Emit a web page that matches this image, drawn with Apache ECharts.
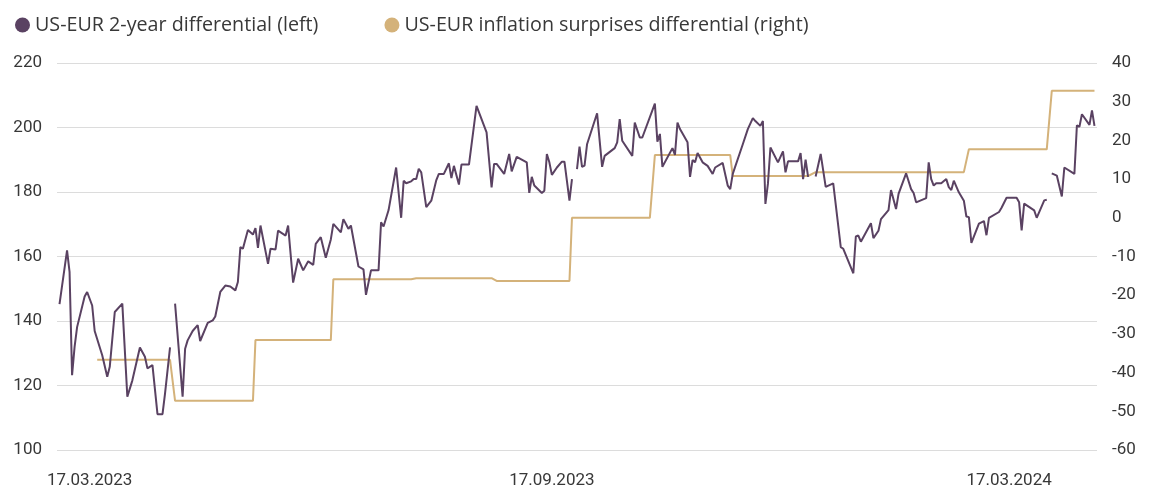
<!DOCTYPE html>
<html>
<head>
<meta charset="utf-8">
<script src="https://cdn.jsdelivr.net/npm/echarts@6/dist/echarts.min.js"></script>
<style>
  html, body { margin: 0; padding: 0; background: #fff; }
  #chart { width: 1152px; height: 489px; }
</style>
</head>
<body>
<div id="chart"></div>
<script>
// US-EUR 2-year differential (left axis), null = gap in the line
const diffDates = [
  '2023-03-05','2023-03-08','2023-03-09','2023-03-10','2023-03-11','2023-03-12','2023-03-15','2023-03-16','2023-03-18','2023-03-19',
  '2023-03-22','2023-03-24','2023-03-25','2023-03-27','2023-03-30','2023-04-01','2023-04-03','2023-04-06','2023-04-08','2023-04-09',
  '2023-04-11','2023-04-13','2023-04-15','2023-04-16','2023-04-18','2023-04-19','2023-04-20','2023-04-23','2023-04-24','2023-04-25',
  '2023-04-27','2023-04-29','2023-04-30','2023-05-03','2023-05-05','2023-05-06','2023-05-07','2023-05-08','2023-05-10','2023-05-12',
  '2023-05-14','2023-05-15','2023-05-16','2023-05-17','2023-05-19','2023-05-21','2023-05-22','2023-05-23','2023-05-24','2023-05-27',
  '2023-05-28','2023-05-30','2023-05-31','2023-06-03','2023-06-04','2023-06-06','2023-06-08','2023-06-10','2023-06-12','2023-06-14',
  '2023-06-15','2023-06-17','2023-06-19','2023-06-21','2023-06-22','2023-06-25','2023-06-26','2023-06-28','2023-06-29','2023-07-02',
  '2023-07-04','2023-07-05','2023-07-07','2023-07-10','2023-07-11','2023-07-12','2023-07-14','2023-07-17','2023-07-19','2023-07-20',
  '2023-07-21','2023-07-23','2023-07-24','2023-07-25','2023-07-26','2023-07-27','2023-07-29','2023-07-31','2023-08-02','2023-08-03',
  '2023-08-05','2023-08-07','2023-08-08','2023-08-09','2023-08-11','2023-08-12','2023-08-15','2023-08-18','2023-08-22','2023-08-24',
  '2023-08-25','2023-08-26','2023-08-29','2023-08-31','2023-09-01','2023-09-03','2023-09-07','2023-09-08','2023-09-09','2023-09-10',
  '2023-09-13','2023-09-14','2023-09-15','2023-09-16','2023-09-17','2023-09-19','2023-09-21','2023-09-22','2023-09-24','2023-09-25',
  '2023-09-26','2023-09-27','2023-09-28','2023-09-29','2023-09-30','2023-10-01','2023-10-05','2023-10-07','2023-10-08','2023-10-12',
  '2023-10-13','2023-10-14','2023-10-15','2023-10-19','2023-10-20','2023-10-22','2023-10-23','2023-10-28','2023-10-29','2023-10-30',
  '2023-10-31','2023-11-04','2023-11-05','2023-11-06','2023-11-07','2023-11-10','2023-11-11','2023-11-12','2023-11-13','2023-11-14',
  '2023-11-16','2023-11-18','2023-11-20','2023-11-21','2023-11-24','2023-11-26','2023-11-27','2023-11-28','2023-12-02','2023-12-04',
  '2023-12-06','2023-12-07','2023-12-09','2023-12-10','2023-12-11','2023-12-12','2023-12-13','2023-12-16','2023-12-18','2023-12-19',
  '2023-12-20','2023-12-24','2023-12-25','2023-12-26','2023-12-27','2023-12-28','2023-12-30','2023-12-31','2024-01-02','2024-01-04',
  '2024-01-07','2024-01-10','2024-01-11','2024-01-15','2024-01-16','2024-01-17','2024-01-18','2024-01-22','2024-01-23','2024-01-25',
  '2024-01-26','2024-01-29','2024-01-30','2024-02-01','2024-02-02','2024-02-05','2024-02-07','2024-02-08','2024-02-09','2024-02-13',
  '2024-02-14','2024-02-15','2024-02-16','2024-02-17','2024-02-19','2024-02-21','2024-02-22','2024-02-23','2024-02-24','2024-02-26',
  '2024-02-28','2024-02-29','2024-03-01','2024-03-02','2024-03-05','2024-03-07','2024-03-08','2024-03-09','2024-03-13','2024-03-14',
  '2024-03-16','2024-03-20','2024-03-21','2024-03-22','2024-03-23','2024-03-27','2024-03-28','2024-03-31','2024-04-01','2024-04-02',
  '2024-04-03','2024-04-05','2024-04-07','2024-04-08','2024-04-12','2024-04-13','2024-04-14','2024-04-15','2024-04-18','2024-04-19',
  '2024-04-20'
];
const diffValues = [
  145.2,161.9,155.2,123.2,132,138.1,147.6,149,144.8,136.9,
  129.4,122.7,125.8,142.8,145.4,116.5,121.6,131.8,128.9,125.3,
  126.3,111.1,111.1,117.5,131.8,null,145.4,116.5,131.4,134,
  136.9,138.7,133.8,139.4,140.2,141.4,145.2,149,151,150.7,
  149.5,152.1,162.9,162.4,168.2,166.8,168.8,162.7,169.6,157.7,
  162.4,162.2,168,166.5,169.6,151.9,159.3,155.7,158.5,157.4,
  163.9,166,159.6,165.3,170.1,167.5,171.6,168.6,169.6,156.9,
  156,148.1,155.7,155.7,170.6,169.3,174.4,187.6,172,183.5,
  182.7,183.3,184,184,187.2,186.1,175.3,177.3,183.7,185.6,
  185.6,188.9,184.3,188.1,182.3,188.5,188.5,206.7,198.5,181.4,
  188.7,188.7,185.6,191.8,186.4,190.9,189.2,179.7,184.7,182,
  179.7,180.4,191.8,189.2,185.3,187.6,189.4,189.4,177.3,184,
  null,187.1,194.1,187.8,188.2,194.8,204.4,187.8,191.2,193.6,
  195.4,202.6,195.9,191.2,201.5,196.9,196.9,207.4,195.6,198,
  187.8,193.6,191.5,201.5,199.5,195.4,184.7,189.9,189.2,192.1,
  189.2,188.1,185.6,187.6,189,182,180.9,185.6,194.8,199.5,
  202.9,202,200.5,202,176.3,182.5,193.8,189.2,192.6,186.1,
  189.5,189.5,192.1,184,190,184.7,null,184.8,191.8,181.6,
  182.7,162.9,162.4,154.8,166.2,166.5,164.6,170.3,165.7,168,
  171.6,174.4,180.6,174.7,179.4,185.8,180.9,179.7,176.8,178.1,
  189.2,184,182,182.7,182.7,184,181.5,180.6,183.5,179.9,
  177.3,172.4,172.2,164.2,170.2,171,166.6,172,173.8,175.1,
  178.2,178.2,176.8,168.1,176.4,174.3,172,177.4,177.6,null,
  185.8,185.1,178.6,187.6,185.6,200.7,200.2,204.1,200.8,205.3,
  200.5
];

// US-EUR inflation surprises differential (right axis)
const surpriseDates = [
  '2023-03-20','2023-04-18','2023-04-20','2023-05-21','2023-05-22','2023-06-21','2023-06-22','2023-07-23',
  '2023-07-25','2023-08-24','2023-08-26','2023-09-24','2023-09-25','2023-10-26','2023-10-28','2023-11-27',
  '2023-11-28','2023-12-28','2023-12-31','2024-02-28','2024-03-01','2024-04-01','2024-04-03','2024-04-20'
];
const surpriseValues = [
  -36.7,-36.7,-47.3,-47.3,-31.6,-31.6,-15.9,-15.9,
  -15.6,-15.6,-16.3,-16.3,0,0,16.2,16.2,
  10.8,10.8,11.8,11.8,17.7,17.7,32.8,32.8
];

// x-axis tick labels
const xTickDates = ['2023-03-17', '2023-09-17', '2024-03-17'];

const seriesNames = ['US-EUR 2-year differential (left)', 'US-EUR inflation surprises differential (right)'];
const purple = '#5a4262';
const tan = '#d4b27a';
const textColor = '#383838';
const fontFamily = 'Roboto';

//日期字符串 -> 时间戳 (UTC, 避免夏令时误差)
function toTime(s) {
  let p = s.split('-');
  return Date.UTC(+p[0], +p[1] - 1, +p[2]);
}
function pad(n) {
  return n < 10 ? '0' + n : '' + n;
}

let chart = echarts.init(document.getElementById('chart'), null, { renderer: 'canvas' });

let option = {
  animation: false,
  backgroundColor: '#ffffff',
  textStyle: { fontFamily: fontFamily },
  legend: {
    left: 10,
    top: 10,
    icon: 'circle',
    itemWidth: 15,
    itemHeight: 15,
    itemGap: 66,
    textStyle: { color: textColor, fontSize: 19.7, fontFamily: 'Open Sans' },
    data: seriesNames
  },
  grid: {
    left: 57,
    right: 55,
    top: 63,
    bottom: 39,
    containLabel: false
  },
  xAxis: {
    // value axis in ms, so the three labels can sit on exact dates
    type: 'value',
    min: toTime('2023-03-04'),
    max: toTime('2024-04-21'),
    axisLine: { show: false },
    axisTick: { show: false },
    splitLine: { show: false },
    axisLabel: {
      customValues: xTickDates.map(toTime),
      color: textColor,
      fontSize: 17,
      margin: 22,
      formatter: function (v) {
        let d = new Date(v);
        return pad(d.getUTCDate()) + '.' + pad(d.getUTCMonth() + 1) + '.' + d.getUTCFullYear();
      }
    }
  },
  yAxis: [{
    type: 'value',
    min: 100,
    max: 220,
    interval: 20,
    axisLine: { show: false },
    axisTick: { show: false },
    splitLine: { lineStyle: { color: '#dcdcdc', width: 1 } },
    axisLabel: { color: textColor, fontSize: 17, margin: 15 }
  }, {
    type: 'value',
    min: -60,
    max: 40,
    interval: 10,
    axisLine: { show: false },
    axisTick: { show: false },
    splitLine: { show: false },
    axisLabel: { color: textColor, fontSize: 17, margin: 15 }
  }],
  series: [{
    name: seriesNames[0],
    type: 'line',
    yAxisIndex: 0,
    z: 3,
    showSymbol: false,
    connectNulls: false,
    itemStyle: { color: purple },
    lineStyle: { color: purple, width: 2 },
    data: diffDates.map((d, i) => [toTime(d), diffValues[i]])
  }, {
    name: seriesNames[1],
    type: 'line',
    yAxisIndex: 1,
    z: 2,
    showSymbol: false,
    itemStyle: { color: tan },
    lineStyle: { color: tan, width: 2 },
    data: surpriseDates.map((d, i) => [toTime(d), surpriseValues[i]])
  }]
};

chart.setOption(option);
</script>
</body>
</html>
